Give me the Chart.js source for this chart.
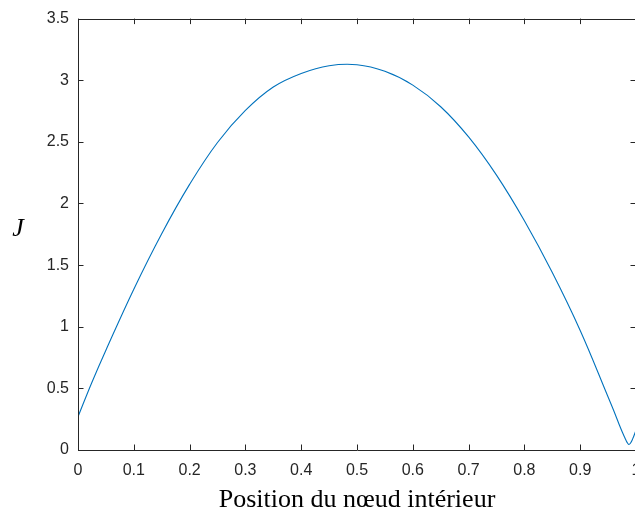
<!DOCTYPE html>
<html>
<head>
<meta charset="utf-8">
<script src="https://cdn.jsdelivr.net/npm/chart.js@4.4.1/dist/chart.umd.min.js"></script>
<style>
  html, body { margin: 0; padding: 0; background: #ffffff; overflow: hidden; }
  #wrap { position: relative; width: 660px; height: 515px; }
</style>
</head>
<body>
<div id="wrap"><canvas id="c" width="660" height="515"></canvas></div>
<script>
// ---- data ----
const positions = [0, 0.025, 0.05, 0.1, 0.15, 0.2, 0.25, 0.3, 0.35, 0.4, 0.45, 0.5,
  0.55, 0.6, 0.65, 0.7, 0.75, 0.8, 0.85, 0.9, 0.95, 0.96, 0.97, 0.975, 0.98, 0.984,
  0.987, 0.99, 0.994, 1.0];
const jValues = [0.27, 0.55, 0.81, 1.305, 1.755, 2.155, 2.495, 2.755, 2.945, 3.055, 3.118, 3.126,
  3.072, 2.96, 2.785, 2.54, 2.23, 1.86, 1.44, 0.97, 0.43, 0.32, 0.205, 0.15, 0.10, 0.062,
  0.045, 0.055, 0.09, 0.16];
const xTickValues = [0, 0.1, 0.2, 0.3, 0.4, 0.5, 0.6, 0.7, 0.8, 0.9, 1];
const yTickValues = [0, 0.5, 1, 1.5, 2, 2.5, 3, 3.5];
const xTickLabels = ['0', '0.1', '0.2', '0.3', '0.4', '0.5', '0.6', '0.7', '0.8', '0.9', '1'];
const yTickLabels = ['0', '0.5', '1', '1.5', '2', '2.5', '3', '3.5'];
const xAxisTitle = 'Position du nœud intérieur';
const yAxisTitle = 'J';

const AXIS_COLOR = '#262626';
const TICK_LEN = 5.5;

const boxPlugin = {
  id: 'matlabBox',
  afterDatasetsDraw(chart) {
    const ctx = chart.ctx;
    const a = chart.chartArea;
    const xs = chart.scales.x, ys = chart.scales.y;
    ctx.save();
    ctx.strokeStyle = AXIS_COLOR;
    ctx.lineWidth = 1;
    ctx.beginPath();
    ctx.rect(Math.round(a.left) + 0.5, Math.round(a.top) + 0.5,
             Math.round(a.right - a.left), Math.round(a.bottom - a.top));
    ctx.stroke();
    ctx.beginPath();
    xTickValues.forEach(v => {
      const px = Math.round(xs.getPixelForValue(v)) + 0.5;
      ctx.moveTo(px, a.bottom); ctx.lineTo(px, a.bottom - TICK_LEN);
      ctx.moveTo(px, a.top); ctx.lineTo(px, a.top + TICK_LEN);
    });
    yTickValues.forEach(v => {
      const py = Math.round(ys.getPixelForValue(v)) + 0.5;
      ctx.moveTo(a.left, py); ctx.lineTo(a.left + TICK_LEN, py);
      ctx.moveTo(a.right, py); ctx.lineTo(a.right - TICK_LEN, py);
    });
    ctx.stroke();
    // horizontal y-axis label (MATLAB style, not rotated)
    ctx.fillStyle = '#000000';
    ctx.font = 'italic 26px "Liberation Serif", "Times New Roman", serif';
    ctx.textAlign = 'center';
    ctx.textBaseline = 'middle';
    ctx.fillText(yAxisTitle, 18, 229);
    ctx.restore();
  }
};

const points = positions.map((x, i) => ({ x: x, y: jValues[i] }));

new Chart(document.getElementById('c'), {
  type: 'line',
  data: {
    datasets: [{
      data: points,
      borderColor: '#0072BD',
      borderWidth: 1.1,
      pointRadius: 0,
      fill: false,
      tension: 0.4
    }]
  },
  options: {
    responsive: false,
    animation: false,
    events: [],
    layout: { autoPadding: false, padding: { left: 0, top: 14, right: 24, bottom: 0 } },
    plugins: { legend: { display: false }, tooltip: { enabled: false } },
    scales: {
      x: {
        type: 'linear', min: 0, max: 1,
        afterBuildTicks: s => { s.ticks = xTickValues.map(v => ({ value: v })); },
        afterFit: s => { s.height = 65; },
        grid: { display: false, drawTicks: false },
        border: { display: false },
        ticks: {
          padding: 11,
          color: AXIS_COLOR,
          font: { family: '"Liberation Sans", Arial, sans-serif', size: 16 },
          callback: (v, i) => xTickLabels[i],
          maxRotation: 0, autoSkip: false
        },
        title: {
          display: true, text: xAxisTitle, color: '#000000',
          font: { family: '"Liberation Serif", "Times New Roman", serif', size: 26 },
          padding: { top: 0, bottom: -1 }
        }
      },
      y: {
        type: 'linear', min: 0, max: 3.5,
        afterBuildTicks: s => { s.ticks = yTickValues.map(v => ({ value: v })); },
        afterFit: s => { s.width = 78; },
        grid: { display: false, drawTicks: false },
        border: { display: false },
        ticks: {
          padding: 9,
          color: AXIS_COLOR,
          font: { family: '"Liberation Sans", Arial, sans-serif', size: 16 },
          callback: (v, i) => yTickLabels[i],
          autoSkip: false
        }
      }
    }
  },
  plugins: [boxPlugin]
});
</script>
</body>
</html>
